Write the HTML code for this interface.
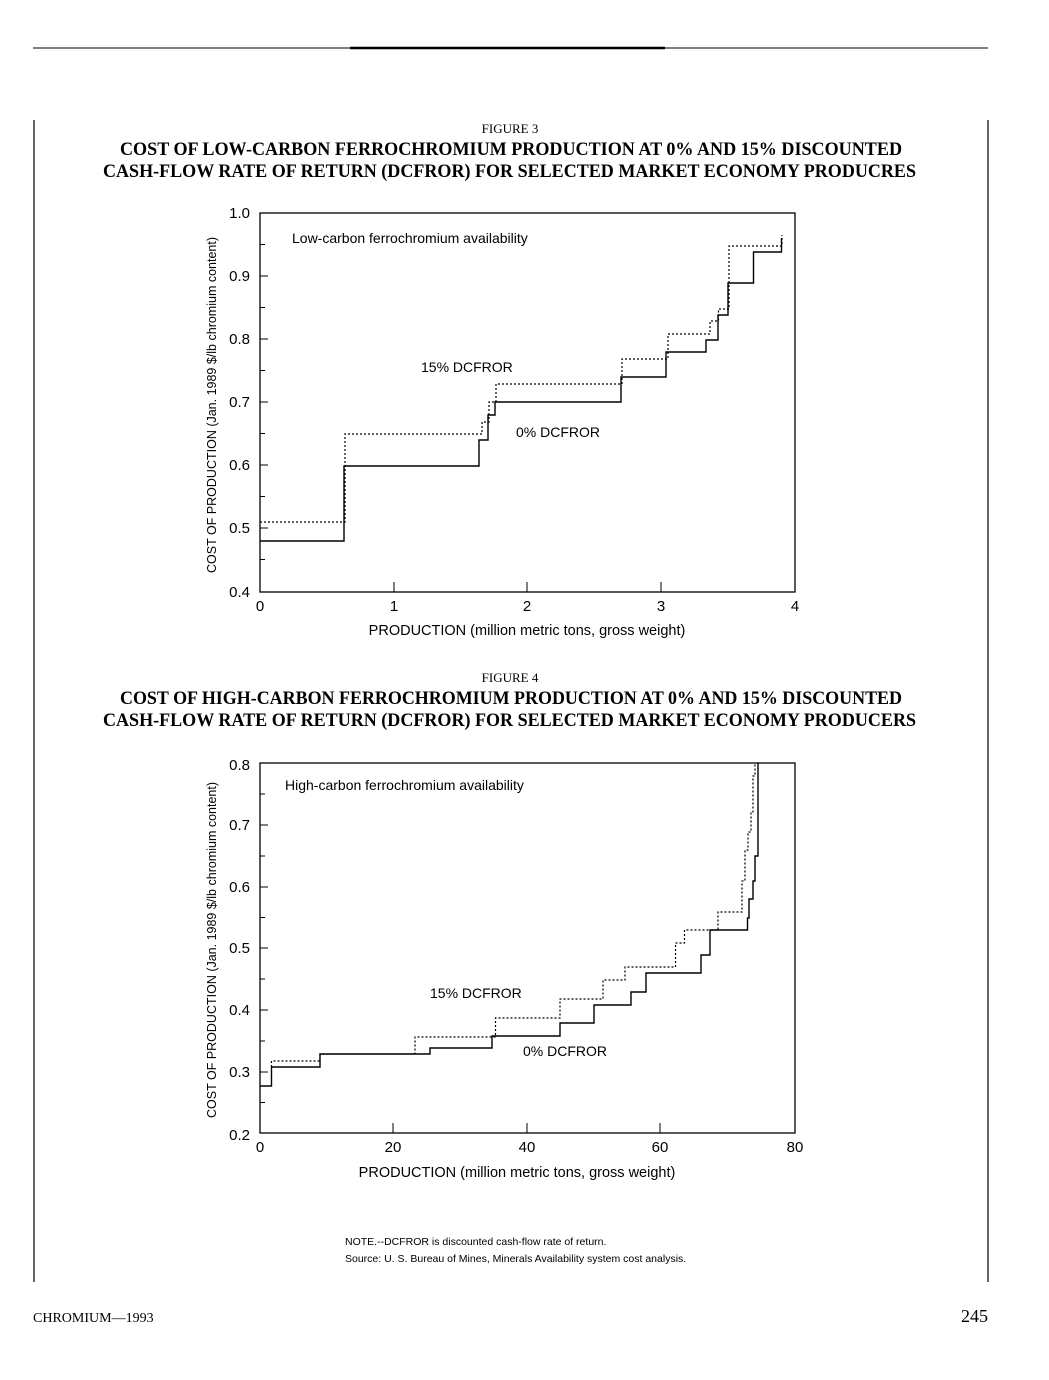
<!DOCTYPE html>
<html><head><meta charset="utf-8"><style>
html,body{margin:0;padding:0;background:#fff;}
svg{display:block;}
.serif{font-family:"Liberation Serif",serif;}
.sans{font-family:"Liberation Sans",sans-serif;}
</style></head><body>
<svg width="1049" height="1380" viewBox="0 0 1049 1380" xmlns="http://www.w3.org/2000/svg">
<rect width="1049" height="1380" fill="#fff"/>
<line x1="33" y1="48" x2="988" y2="48" stroke="#000" stroke-width="1"/>
<line x1="350" y1="48" x2="665" y2="48" stroke="#000" stroke-width="2.5"/>
<line x1="34" y1="120" x2="34" y2="1282" stroke="#000" stroke-width="1.2"/>
<line x1="988" y1="120" x2="988" y2="1282" stroke="#000" stroke-width="1.2"/>

<g class="serif" fill="#000">
<text x="510" y="133" font-size="13" text-anchor="middle">FIGURE 3</text>
<text x="120" y="155" font-size="19" font-weight="bold" textLength="782" lengthAdjust="spacingAndGlyphs">COST OF LOW-CARBON FERROCHROMIUM PRODUCTION AT 0% AND 15% DISCOUNTED</text>
<text x="103" y="177" font-size="19" font-weight="bold" textLength="813" lengthAdjust="spacingAndGlyphs">CASH-FLOW RATE OF RETURN (DCFROR) FOR SELECTED MARKET ECONOMY PRODUCRES</text>
<text x="510" y="682" font-size="13" text-anchor="middle">FIGURE 4</text>
<text x="120" y="704" font-size="19" font-weight="bold" textLength="782" lengthAdjust="spacingAndGlyphs">COST OF HIGH-CARBON FERROCHROMIUM PRODUCTION AT 0% AND 15% DISCOUNTED</text>
<text x="103" y="726" font-size="19" font-weight="bold" textLength="813" lengthAdjust="spacingAndGlyphs">CASH-FLOW RATE OF RETURN (DCFROR) FOR SELECTED MARKET ECONOMY PRODUCERS</text>
</g>

<!-- Chart 1 -->
<g stroke="#000" fill="none">
<rect x="260" y="213" width="535" height="379" stroke-width="1.3"/>
<path d="M260 244.5h5M260 276h8M260 307.5h5M260 339h8M260 370.5h5M260 402h8M260 433.5h5M260 465h8M260 496.5h5M260 528h8M260 559.5h5M394 592v-10M527 592v-10M661 592v-10" stroke-width="1"/>
<polyline stroke-width="1.4" points="260,541 344,541 344,466 479,466 479,440 488,440 488,415 495,415 495,402 621,402 621,377 666,377 666,352 706,352 706,340 718,340 718,315 728,315 728,283 753.5,283 753.5,252 781.5,252 781.5,238"/>
<polyline stroke-width="1.2" stroke-dasharray="2,2" points="260,522 345,522 345,434 482,434 482,422 489,422 489,402 496,402 496,384 622,384 622,359 668,359 668,334 710,334 710,321 718.5,321 718.5,309 729,309 729,246 782,246 782,235"/>
</g>
<g class="sans" fill="#000" font-size="15">
<text x="250" y="218" text-anchor="end">1.0</text>
<text x="250" y="281" text-anchor="end">0.9</text>
<text x="250" y="344" text-anchor="end">0.8</text>
<text x="250" y="407" text-anchor="end">0.7</text>
<text x="250" y="470" text-anchor="end">0.6</text>
<text x="250" y="533" text-anchor="end">0.5</text>
<text x="250" y="597" text-anchor="end">0.4</text>
<text x="260" y="611" text-anchor="middle">0</text>
<text x="394" y="611" text-anchor="middle">1</text>
<text x="527" y="611" text-anchor="middle">2</text>
<text x="661" y="611" text-anchor="middle">3</text>
<text x="795" y="611" text-anchor="middle">4</text>
<text x="527" y="635" text-anchor="middle" font-size="14.5">PRODUCTION (million metric tons, gross weight)</text>
<text x="292" y="243" font-size="14">Low-carbon ferrochromium availability</text>
<text x="421" y="372" font-size="14">15% DCFROR</text>
<text x="516" y="437" font-size="14">0% DCFROR</text>
<text transform="translate(216,405) rotate(-90)" text-anchor="middle" font-size="12.5">COST OF PRODUCTION (Jan. 1989 $/lb chromium content)</text>
</g>

<!-- Chart 2 -->
<g stroke="#000" fill="none">
<rect x="260" y="763" width="535" height="370" stroke-width="1.3"/>
<path d="M260 794h5M260 825h8M260 856h5M260 887h8M260 917.5h5M260 948h8M260 979h5M260 1010h8M260 1041h5M260 1072h8M260 1102.5h5M393 1133v-10M527 1133v-10M660 1133v-10" stroke-width="1"/>
<polyline stroke-width="1.4" points="260,1086 271.5,1086 271.5,1067 320,1067 320,1054 430,1054 430,1048 492,1048 492,1036 560,1036 560,1023 594,1023 594,1005 631,1005 631,992 646,992 646,973 701,973 701,955 710,955 710,930 747.5,930 747.5,918 749,918 749,899 753,899 753,881 755,881 755,856 758,856 758,763"/>
<polyline stroke-width="1.2" stroke-dasharray="2,2" points="271.5,1067 271.5,1061 320,1061 320,1054 415,1054 415,1037 495.5,1037 495.5,1018 560,1018 560,999 603,999 603,980 625,980 625,967 675.5,967 675.5,943 684.5,943 684.5,930 718,930 718,912 742,912 742,881 745,881 745,850 748,850 748,832 751,832 751,813 753,813 753,776 755,776 755,763"/>
</g>
<g class="sans" fill="#000" font-size="15">
<text x="250" y="770" text-anchor="end">0.8</text>
<text x="250" y="830" text-anchor="end">0.7</text>
<text x="250" y="892" text-anchor="end">0.6</text>
<text x="250" y="953" text-anchor="end">0.5</text>
<text x="250" y="1015" text-anchor="end">0.4</text>
<text x="250" y="1077" text-anchor="end">0.3</text>
<text x="250" y="1140" text-anchor="end">0.2</text>
<text x="260" y="1152" text-anchor="middle">0</text>
<text x="393" y="1152" text-anchor="middle">20</text>
<text x="527" y="1152" text-anchor="middle">40</text>
<text x="660" y="1152" text-anchor="middle">60</text>
<text x="795" y="1152" text-anchor="middle">80</text>
<text x="517" y="1177" text-anchor="middle" font-size="14.5">PRODUCTION (million metric tons, gross weight)</text>
<text x="285" y="790" font-size="14">High-carbon ferrochromium availability</text>
<text x="430" y="998" font-size="14">15% DCFROR</text>
<text x="523" y="1056" font-size="14">0% DCFROR</text>
<text transform="translate(216,950) rotate(-90)" text-anchor="middle" font-size="12.5">COST OF PRODUCTION (Jan. 1989 $/lb chromium content)</text>
<text x="345" y="1245" font-size="10.5">NOTE.--DCFROR is discounted cash-flow rate of return.</text>
<text x="345" y="1262" font-size="10.5">Source:  U. S. Bureau of Mines, Minerals Availability system cost analysis.</text>
</g>

<g class="serif" fill="#000">
<text x="33" y="1322" font-size="14">CHROMIUM—1993</text>
<text x="988" y="1322" font-size="18" text-anchor="end">245</text>
</g>
</svg>
</body></html>
